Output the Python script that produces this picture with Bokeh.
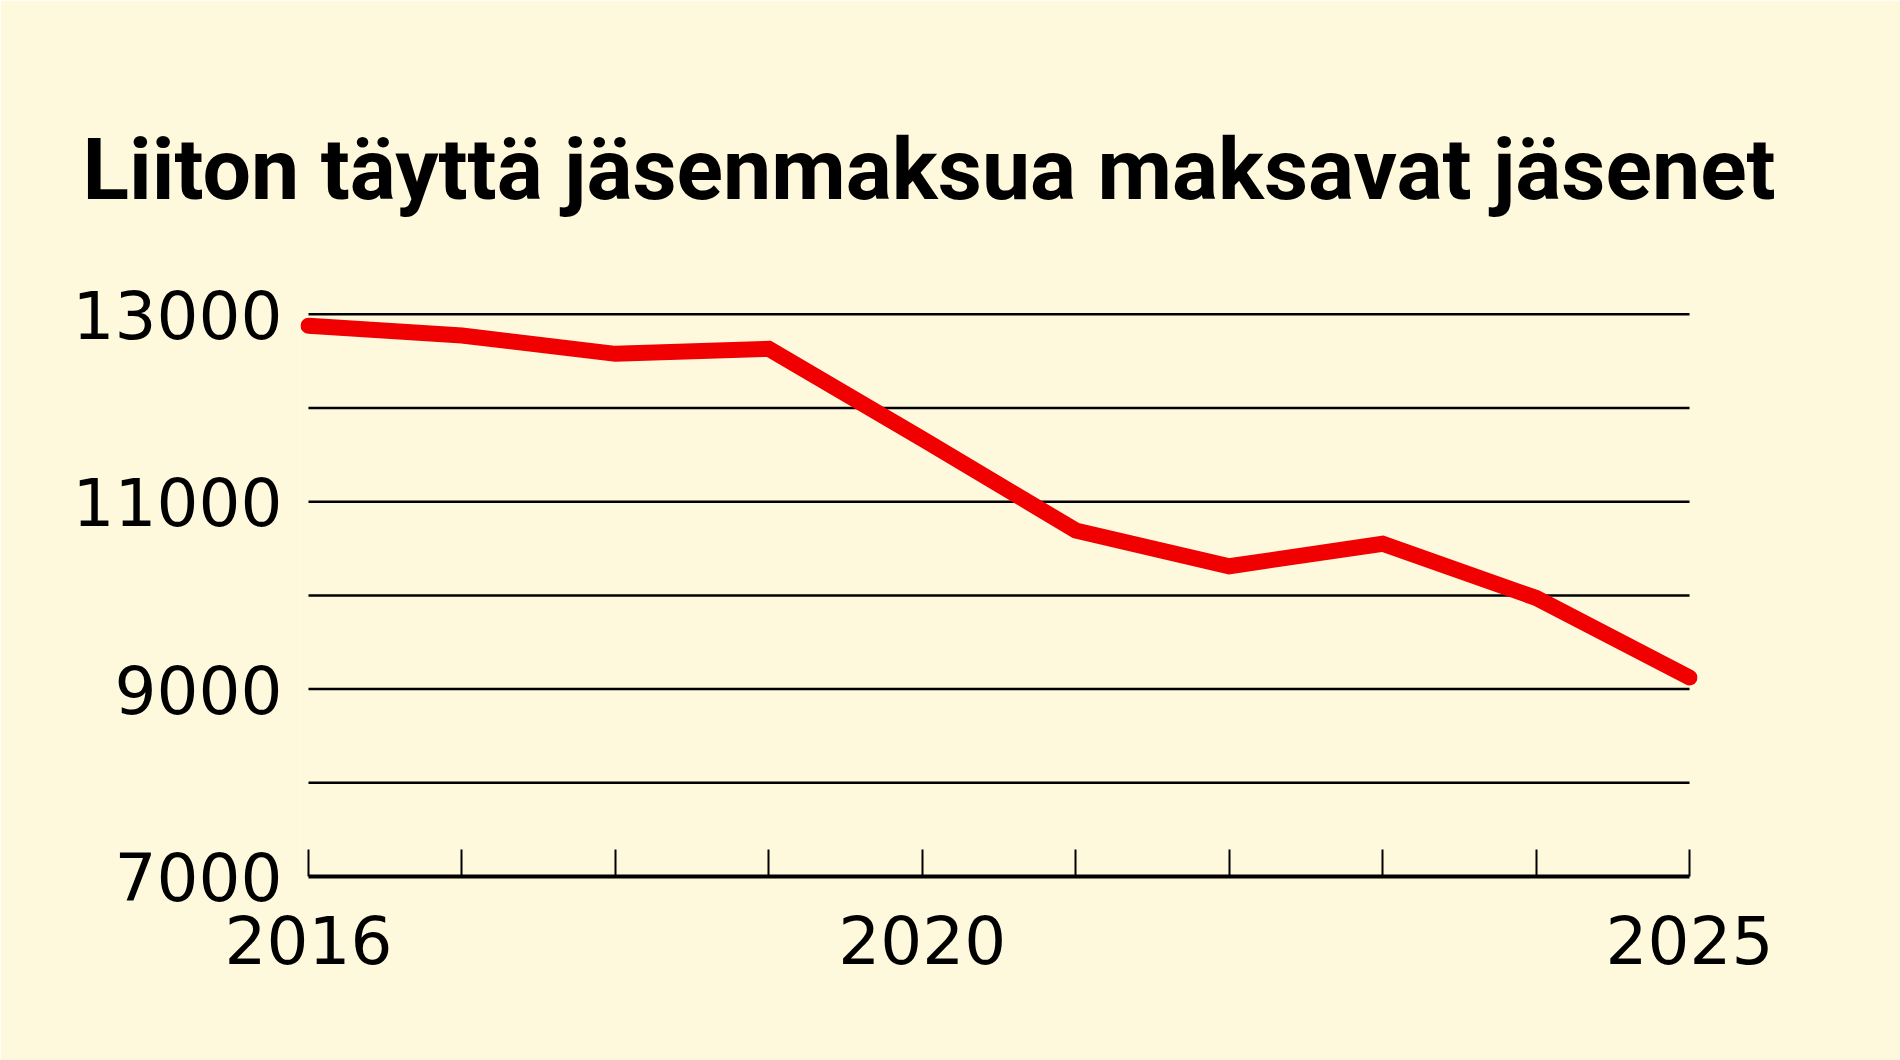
from bokeh.plotting import figure
from bokeh.models import Range1d, FixedTicker
from bokeh.embed import file_html
from bokeh.resources import INLINE

# ---- data ----
years = [2016, 2017, 2018, 2019, 2020, 2021, 2022, 2023, 2024, 2025]
members = [12877, 12774, 12578, 12632, 11671, 10693, 10311, 10551, 9973, 9124]
y_ticks = [7000, 8000, 9000, 10000, 11000, 12000, 13000]
y_labels = {7000: "7000", 9000: "9000", 11000: "11000", 13000: "13000"}
x_labels = {2016: "2016", 2020: "2020", 2025: "2025"}
title_text = "Liiton täyttä jäsenmaksua maksavat jäsenet"

BG = "#FEF9DC"
RED = "#F00000"
NUM_FONT = "DejaVu Sans"
TITLE_FONT = "Roboto"

pad_x = 0.052
p = figure(width=1900, height=1060, output_backend="svg", toolbar_location=None,
           x_range=Range1d(years[0] - pad_x, years[-1] + pad_x),
           y_range=Range1d(y_ticks[0], y_ticks[-1] + 62),
           min_border_left=300, min_border_right=203,
           min_border_top=308, min_border_bottom=184,
           background_fill_color=BG, border_fill_color=BG,
           outline_line_color=None)

# title
p.title.text = title_text
p.title.text_font = TITLE_FONT
p.title.text_font_size = "86px"
p.title.text_font_style = "bold"
p.title.text_color = "black"
p.title.align = "left"
p.title.offset = -218
p.title.standoff = 178

# x axis
xa = p.xaxis[0]
xa.ticker = FixedTicker(ticks=years, minor_ticks=[])
xa.major_label_overrides = {y: x_labels.get(y, "") for y in years}
xa.bounds = (years[0], years[-1])
xa.axis_line_color = "black"
xa.axis_line_width = 4
xa.major_tick_line_color = "black"
xa.major_tick_line_width = 2
xa.major_tick_in = 27
xa.major_tick_out = 0
xa.minor_tick_line_color = None
xa.major_label_standoff = 38
xa.major_label_text_font = NUM_FONT
xa.major_label_text_font_size = "66px"
xa.major_label_text_color = "black"

# y axis
ya = p.yaxis[0]
ya.ticker = FixedTicker(ticks=y_ticks, minor_ticks=[])
ya.major_label_overrides = {v: y_labels.get(v, "") for v in y_ticks}
ya.axis_line_color = None
ya.major_tick_line_color = None
ya.minor_tick_line_color = None
ya.major_label_standoff = 12
ya.major_label_text_font = NUM_FONT
ya.major_label_text_font_size = "66px"
ya.major_label_text_color = "black"

# grid lines spanning exactly the year range
p.xgrid.grid_line_color = None
p.ygrid.grid_line_color = None
grid_y = y_ticks[1:]
p.segment(x0=[years[0]] * len(grid_y), x1=[years[-1]] * len(grid_y),
          y0=grid_y, y1=grid_y, line_color="black", line_width=2.5)

# data line
p.line(years, members, line_color=RED, line_width=16,
       line_cap="round", line_join="miter")

open("out.html", "w").write(file_html(p, INLINE))
